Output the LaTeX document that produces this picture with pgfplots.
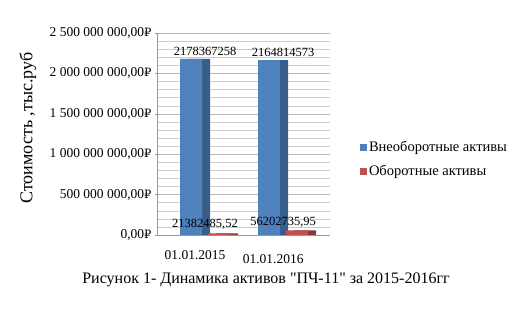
\documentclass[border=0pt]{standalone}
\usepackage{fontspec}
\setmainfont{Liberation Serif}[Ligatures=TeXOff]
\newfontfamily\rubfont{DejaVu Serif}
\newcommand\rub{{\rubfont\fontsize{11.5}{13}\selectfont ₽}}
\usepackage{pgfplots}
\pgfplotsset{compat=1.18}
\definecolor{bfront}{HTML}{4F81BD}
\definecolor{bside}{HTML}{385D8A}
\definecolor{rfront}{HTML}{C0504D}
\definecolor{rside}{HTML}{8C3836}
\begin{document}
\begin{tikzpicture}
\path[use as bounding box] (0,0) rectangle (525pt,316pt);
\begin{axis}[
  at={(157pt,81pt)}, anchor=south west,
  width=173pt, height=202pt, scale only axis,
  xmin=-0.615, xmax=1.6, ymin=0, ymax=2.5e9,
  xtick={0,1},
  xticklabels={01.01.2015,\raisebox{-13pt}{01.01.2016}},
  xtick style={draw=none},
  xticklabel style={yshift=-10pt, xshift=-10pt},
  ytick={0,5e8,1e9,1.5e9,2e9,2.5e9},
  yticklabels={{0,00\rub},{500~000~000,00\rub},{1~000~000~000,00\rub},{1~500~000~000,00\rub},{2~000~000~000,00\rub},{2~500~000~000,00\rub}},
  scaled y ticks=false,
  minor y tick num=4,
  ymajorgrids, yminorgrids,
  major grid style={gray!55},
  minor grid style={gray!40},
  axis x line=bottom, axis y line=left,
  axis line style={-, gray!80},
  ytick style={gray!80}, minor tick style={draw=none},
  major tick length=4pt,
  ticklabel style={font=\fontsize{13.5}{15}\selectfont},
  ylabel={Стоимость ,тыс.руб},
  ylabel style={at={(rel axis cs:-0.746,0.53)}, anchor=center, font=\fontsize{18}{20}\selectfont},
  legend style={at={(rel axis cs:1.155,0.485)}, anchor=north west, draw=none, fill=none,
     font=\fontsize{14.5}{16}\selectfont, row sep=8pt},
  legend cell align=left,
  legend image code/.code={\fill[#1] (0pt,-3.5pt) rectangle (7pt,3.5pt);},
  nodes near coords style={font=\fontsize{12.5}{15}\selectfont, black},
]
\addplot[ybar, bar width=22pt, bar shift=-6pt, fill=bside, draw=none, forget plot]
  coordinates {(0,2178367258) (1,2164814573)};
\addplot[ybar, bar width=22pt, bar shift=-14pt, fill=bfront, draw=none,
  point meta=explicit symbolic, nodes near coords]
  coordinates {(0,2178367258) [2178367258] (1,2164814573) [2164814573]};
\addlegendentry{Внеоборотные активы}
\addplot[ybar, bar width=22pt, bar shift=22pt, fill=rside, draw=none, forget plot]
  coordinates {(0,21382485.52) (1,56202735.95)};
\addplot[ybar, bar width=22pt, bar shift=14pt, fill=rfront, draw=none,
  point meta=explicit symbolic, nodes near coords]
  coordinates {(0,21382485.52) [{21382485,52}] (1,56202735.95) [{56202735,95}]};
\addlegendentry{Оборотные активы}
\end{axis}
\node[font=\fontsize{16}{18}\selectfont] at (266pt,36pt) {Рисунок 1- Динамика активов "ПЧ-11" за 2015-2016гг};
\end{tikzpicture}
\end{document}
